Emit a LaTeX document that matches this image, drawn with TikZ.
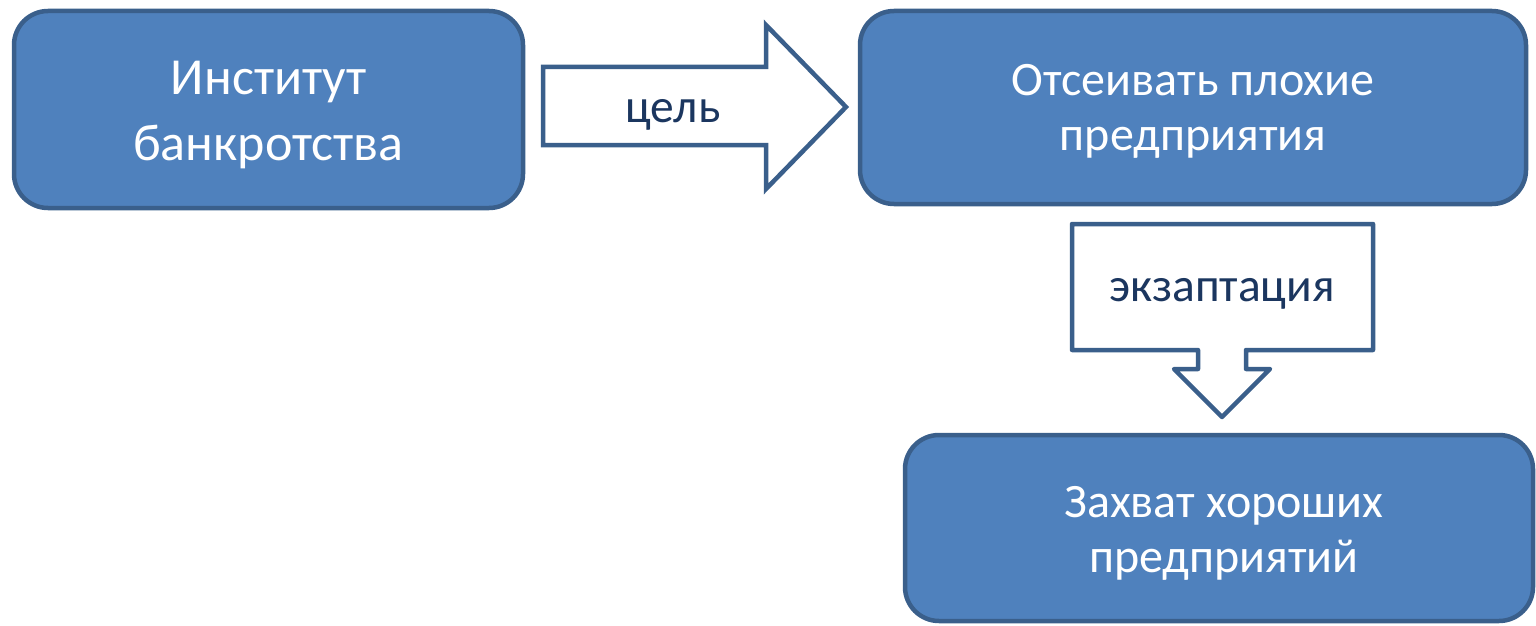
\documentclass[tikz,border=0pt]{standalone}
\usepackage{fontspec}
\setmainfont{Carlito}
\definecolor{boxfill}{HTML}{4F81BD}
\definecolor{boxline}{HTML}{3A5F8B}
\definecolor{labtext}{HTML}{1B365F}
\begin{document}
\begin{tikzpicture}[x=1pt,y=-1pt,
  bigbox/.style={draw=boxline, fill=boxfill, line width=4.5pt, rounded corners=34pt,
    text=white, align=center, inner sep=0pt},
  bigfont/.style={font=\fontsize{52}{66}\selectfont},
  midfont/.style={font=\fontsize{48}{55}\selectfont},
  blockarrow/.style={draw=boxline, fill=white, line width=4.5pt},
  arrowlabel/.style={text=labtext, inner sep=0pt, font=\fontsize{47.5}{56}\selectfont}]
\useasboundingbox (0,0) rectangle (1536,626);
% boxes
\draw[bigbox] (14,11) rectangle (523,208);
\node[align=center, text=white, bigfont, inner sep=0pt] (b1) at (268.5,115) {Институт\\банкротства};
\draw[bigbox] (860,11) rectangle (1526,204);
\node[align=center, text=white, midfont, inner sep=0pt] (b2) at (1193,111) {Отсеивать плохие\\предприятия};
\draw[bigbox] (905,435) rectangle (1533,621);
\node[align=center, text=white, midfont, inner sep=0pt] (b3) at (1224,533) {Захват хороших\\предприятий};
% right block arrow
\draw[blockarrow, line join=miter] (543,67) -- (766,67) -- (766,25) -- (846,107) -- (766,189) -- (766,145) -- (543,145) -- cycle;
\node[arrowlabel] (l1) at (673,115) {цель};
% down callout arrow
\draw[blockarrow, line join=round] (1072,224) -- (1373,224) -- (1373,350) -- (1246,350) -- (1246,369) -- (1270,369) -- (1222,417) -- (1174,369) -- (1198,369) -- (1198,350) -- (1072,350) -- cycle;
\node[arrowlabel] (l2) at (1222,294) {экзаптация};
\end{tikzpicture}
\end{document}
